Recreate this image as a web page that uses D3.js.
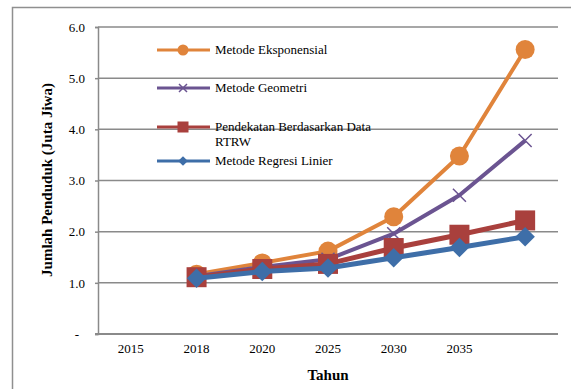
<!DOCTYPE html>
<html>
<head>
<meta charset="utf-8">
<script src="https://cdn.jsdelivr.net/npm/d3@7"></script>
<style>
  body { margin: 0; background: #fff; }
  text { font-family: "Liberation Serif", "Times New Roman", serif; fill: #000; }
</style>
</head>
<body>
<script>
// categories on the x axis (last one has no label in the original)
var years = ["2015", "2018", "2020", "2025", "2030", "2035", "2040"];
var yearLabels = ["2015", "2018", "2020", "2025", "2030", "2035", ""];
var pointYears = ["2018", "2020", "2025", "2030", "2035", "2040"];
var yTicks = [0, 1, 2, 3, 4, 5, 6];

var eksponensial = [1.17, 1.39, 1.62, 2.29, 3.48, 5.56];
var geometri = [1.13, 1.31, 1.46, 1.96, 2.71, 3.78];
var rtrw = [1.11, 1.27, 1.37, 1.68, 1.94, 2.22];
var regresi = [1.09, 1.22, 1.29, 1.49, 1.69, 1.90];

var series = [
  {name: "Metode Eksponensial", values: eksponensial, color: "#E0843B", width: 4, marker: "circle"},
  {name: "Metode Geometri", values: geometri, color: "#6B5491", width: 4, marker: "cross"},
  {name: "Pendekatan Berdasarkan Data|RTRW", values: rtrw, color: "#A9403D", width: 5, marker: "square"},
  {name: "Metode Regresi Linier", values: regresi, color: "#3E6EA8", width: 5, marker: "diamond"}
];

var W = 571, H = 389;
var plot = {left: 98, right: 558, top: 27, bottom: 334};

var svg = d3.select("body").append("svg")
    .attr("width", W)
    .attr("height", H);

// outer frame (runs off the right and bottom edges)
svg.append("rect")
    .attr("x", 12.5).attr("y", 7.5)
    .attr("width", W).attr("height", H)
    .attr("fill", "none")
    .attr("stroke", "#8f8f8f")
    .attr("stroke-width", 1.5);

var x = d3.scaleBand().domain(years).range([plot.left, plot.right]);
var y = d3.scaleLinear().domain([0, 6]).range([plot.bottom, plot.top]);

// gridlines
svg.append("g").selectAll("line")
    .data(yTicks.filter(function(d) { return d > 0; }))
  .enter().append("line")
    .attr("x1", plot.left).attr("x2", plot.right)
    .attr("y1", function(d) { return y(d); })
    .attr("y2", function(d) { return y(d); })
    .attr("stroke", "#8a8a8a")
    .attr("stroke-width", 1.5);

// y axis
var yAxis = d3.axisLeft(y)
    .tickValues(yTicks)
    .tickSize(3)
    .tickPadding(10)
    .tickFormat(function(d) { return d === 0 ? "-" : d3.format(".1f")(d); });
var gy = svg.append("g")
    .attr("transform", "translate(" + plot.left + ",0)")
    .call(yAxis);
gy.select(".domain").attr("stroke", "#8a8a8a").attr("stroke-width", 1.5);
gy.selectAll(".tick line").attr("stroke", "#8a8a8a").attr("stroke-width", 1.5);
gy.selectAll(".tick text")
    .style("font-family", "Liberation Serif")
    .style("font-size", "13px")
    .attr("dx", function(d) { return d === 0 ? -6 : 0; });

// x axis
var xAxis = d3.axisBottom(x)
    .tickSize(0)
    .tickPadding(10)
    .tickFormat(function(d, i) { return yearLabels[i]; });
var gx = svg.append("g")
    .attr("transform", "translate(0," + plot.bottom + ")")
    .call(xAxis);
gx.select(".domain").remove();
gx.selectAll(".tick text")
    .style("font-family", "Liberation Serif")
    .style("font-size", "13px");
svg.append("line")
    .attr("x1", plot.left - 3).attr("x2", plot.right)
    .attr("y1", plot.bottom).attr("y2", plot.bottom)
    .attr("stroke", "#8a8a8a")
    .attr("stroke-width", 2);

// axis titles
svg.append("text")
    .attr("x", 328).attr("y", 380)
    .attr("text-anchor", "middle")
    .style("font-weight", "bold")
    .style("font-size", "15px")
    .text("Tahun");
svg.append("text")
    .attr("transform", "translate(52,180) rotate(-90)")
    .attr("text-anchor", "middle")
    .style("font-weight", "bold")
    .style("font-size", "15px")
    .text("Jumlah Penduduk (Juta Jiwa)");

function drawMarker(g, type, color, s) {
  if (type === "circle") {
    g.append("circle").attr("r", s * 0.5).attr("fill", color);
  } else if (type === "square") {
    g.append("rect").attr("x", -s / 2).attr("y", -s / 2)
      .attr("width", s).attr("height", s).attr("fill", color);
  } else if (type === "diamond") {
    g.append("path").attr("d", d3.symbol().type(d3.symbolDiamond2).size(s * s * 0.5)).attr("fill", color);
    g.select("path").attr("transform", "rotate(0)");
  } else if (type === "cross") {
    var h = s / 2;
    g.append("path")
      .attr("d", "M" + (-h) + "," + (-h) + "L" + h + "," + h + "M" + (-h) + "," + h + "L" + h + "," + (-h))
      .attr("stroke", color).attr("stroke-width", 1.5).attr("fill", "none");
  }
}

var markerSize = {circle: 19, cross: 13, square: 20, diamond: 22};

var line = d3.line()
    .x(function(d, i) { return x(pointYears[i]) + x.bandwidth() / 2; })
    .y(function(d) { return y(d); });

series.forEach(function(s) {
  var g = svg.append("g");
  g.append("path")
      .datum(s.values)
      .attr("d", line)
      .attr("fill", "none")
      .attr("stroke", s.color)
      .attr("stroke-width", s.width)
      .attr("stroke-linejoin", "round");
  s.values.forEach(function(v, i) {
    var m = g.append("g")
        .attr("transform", "translate(" + (x(pointYears[i]) + x.bandwidth() / 2) + "," + y(v) + ")");
    drawMarker(m, s.marker, s.color, markerSize[s.marker]);
  });
});

// legend
var legendY = [50, 88, 127, 161];
var legendMarker = {circle: 11, cross: 8, square: 11, diamond: 11};
series.forEach(function(s, i) {
  var g = svg.append("g").attr("transform", "translate(0," + legendY[i] + ")");
  g.append("line")
      .attr("x1", 157).attr("x2", 210)
      .attr("stroke", s.color).attr("stroke-width", 3);
  var m = g.append("g").attr("transform", "translate(183,0)");
  drawMarker(m, s.marker, s.color, legendMarker[s.marker]);
  var parts = s.name.split("|");
  parts.forEach(function(p, j) {
    g.append("text")
        .attr("x", 215).attr("y", 4 + j * 15)
        .style("font-size", "13px")
        .text(p);
  });
});
</script>
</body>
</html>
